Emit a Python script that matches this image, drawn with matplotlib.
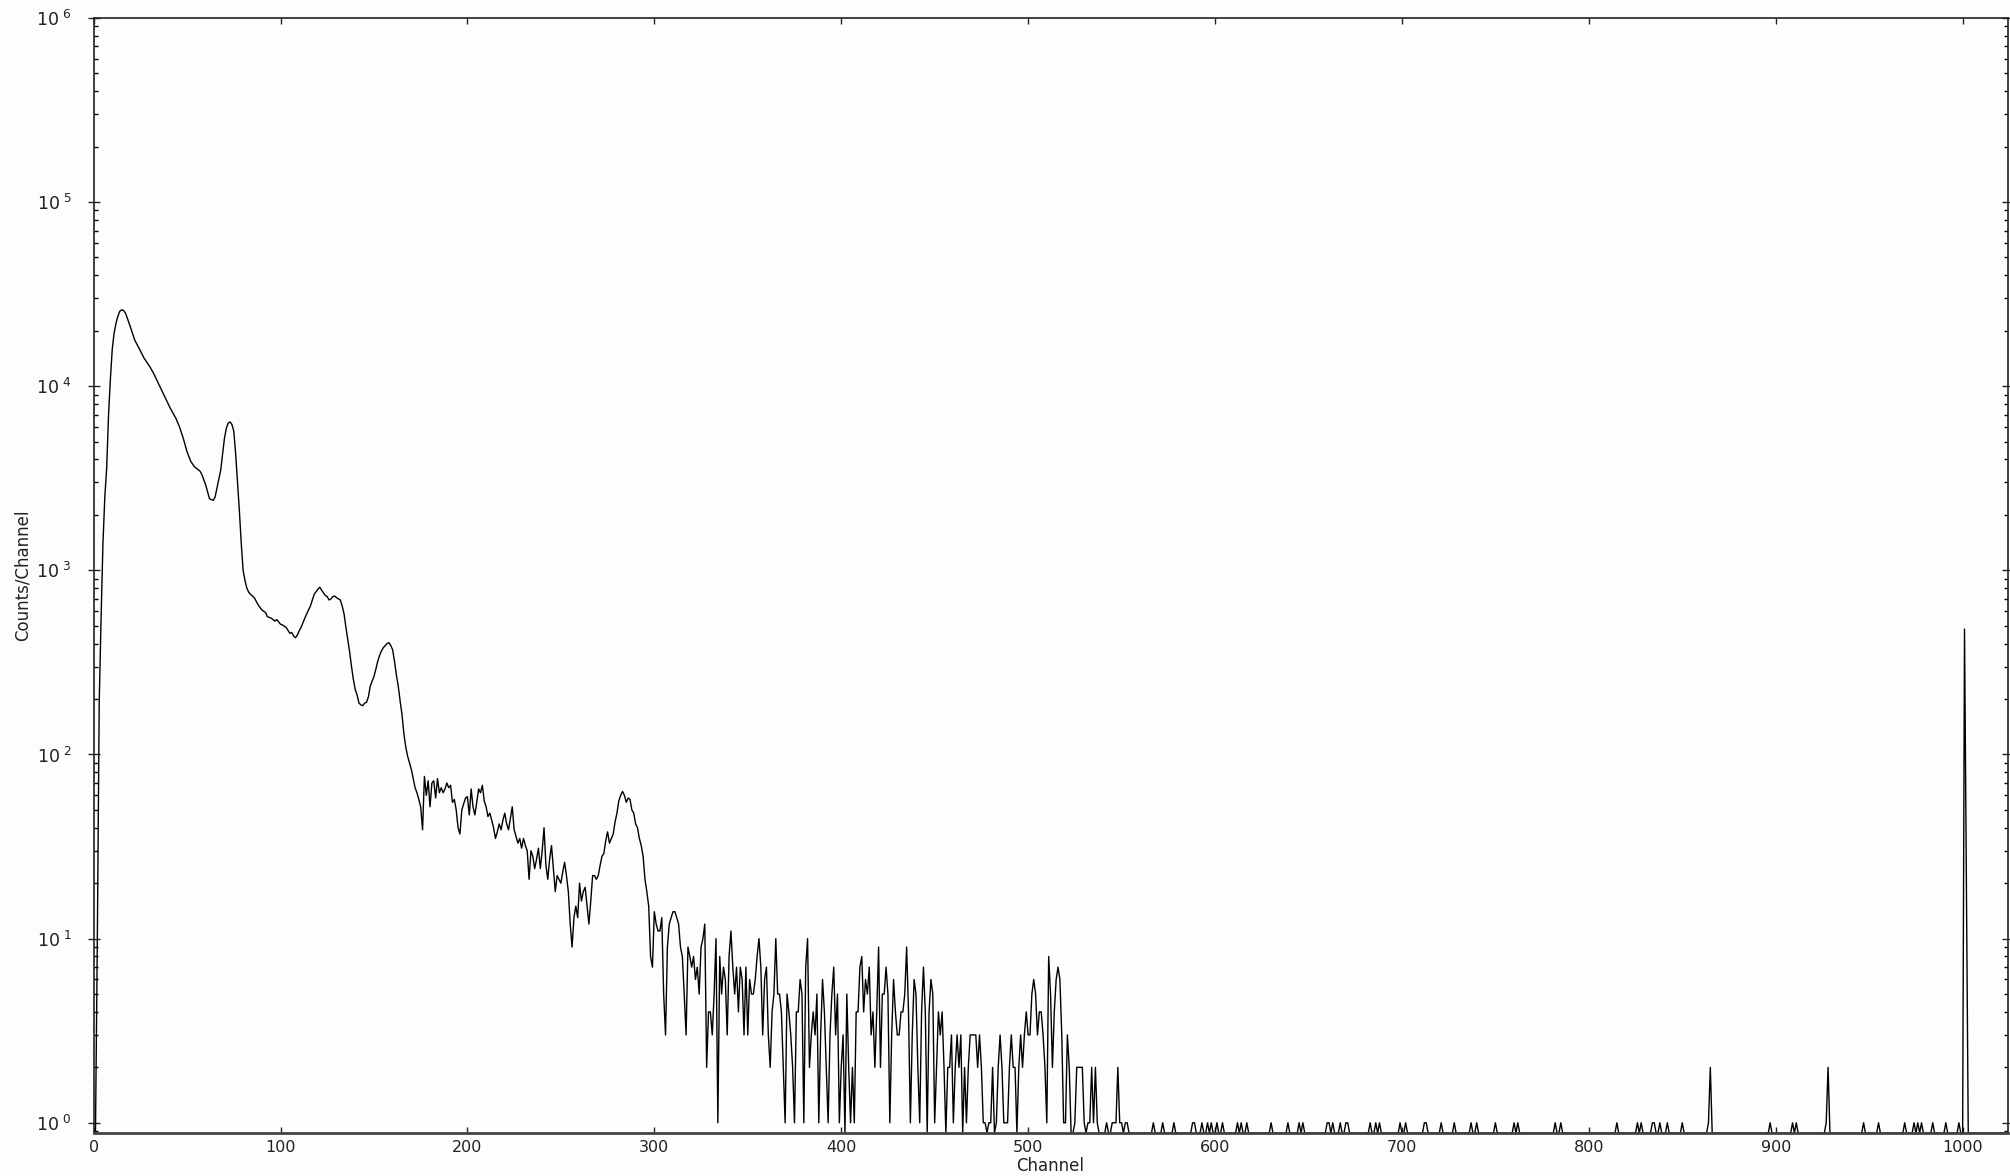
import numpy as np
import matplotlib
matplotlib.use("Agg")
import matplotlib.pyplot as plt
from matplotlib.ticker import FixedLocator, LogLocator, NullFormatter, FixedFormatter

# smooth part of the spectrum (channel, counts)
ch_low = [0, 1, 2, 3, 4, 5, 6, 7, 8, 9, 10, 11, 12, 13, 14, 15, 16, 17, 18, 20,
          22, 24, 27, 30, 32, 35, 38, 41, 44, 46, 48, 50, 52, 54, 57, 58, 60, 62, 64, 65,
          66, 68, 70, 71, 72, 73, 74, 75, 76, 77, 78, 79, 80, 81, 82, 83, 84, 86, 88, 90,
          92, 93, 95, 97, 98, 100, 101, 103, 105, 106, 107, 108, 109, 110, 111, 113, 115, 116, 118, 120,
          121, 122, 124, 125, 126, 127, 128, 129, 130, 132, 133, 134, 135, 136, 137, 138, 139, 140, 141, 142,
          143, 144, 145, 146, 147, 148, 149, 150, 151, 152, 153, 154, 155, 156, 157, 158, 159, 160, 161, 162,
          163, 164, 165, 166, 167, 168, 169, 170, 171, 172, 173, 174, 175, 176, 177, 178, 179, 180, 181, 182,
          183, 184, 185, 186, 187, 188, 189, 190, 191, 192, 193, 194, 195, 196, 197, 198, 199, 200, 201, 202,
          203, 204, 205, 206, 207, 208, 209, 210, 211, 212, 213, 214, 215, 216, 217, 218, 219, 220, 221, 222,
          223, 224, 225, 226, 227, 228, 229, 230, 231, 232, 233, 234, 235, 236, 237, 238, 239, 240, 241, 242,
          243, 244, 245, 246, 247, 248, 249, 250, 251, 252, 253, 254, 255, 256, 257, 258, 259, 260, 261, 262,
          263, 264, 265, 266, 267, 268, 269, 270, 271, 272, 273, 274, 275, 276, 277, 278, 279, 280, 281, 282,
          283, 284, 285, 286, 287, 288, 289, 290, 291, 292, 293, 294, 295, 296, 297]
cnt_low = [0, 0, 10, 190, 550, 1400, 2500, 3600, 7000, 11000, 16000, 19500, 22000, 24000, 25500, 26000, 25800, 25000, 23500, 20500,
           17800, 16300, 14200, 12800, 11800, 10200, 8800, 7600, 6700, 6000, 5200, 4400, 3900, 3650, 3450, 3300, 2900, 2450, 2400, 2500,
           2800, 3500, 5200, 5900, 6300, 6400, 6200, 5700, 4300, 3000, 2100, 1400, 1000, 880, 800, 760, 740, 710, 650, 610,
           590, 560, 550, 530, 540, 510, 505, 490, 455, 460, 440, 430, 445, 470, 490, 550, 610, 640, 740, 790,
           810, 780, 730, 720, 690, 700, 720, 725, 710, 690, 640, 580, 490, 420, 360, 300, 255, 225, 210, 190,
           186, 184, 190, 192, 205, 235, 250, 265, 290, 320, 345, 365, 380, 390, 400, 405, 390, 370, 320, 270,
           235, 195, 165, 130, 110, 98, 90, 83, 74, 66, 62, 57, 52, 39, 76, 60, 72, 52, 70, 72,
           58, 74, 62, 66, 62, 65, 70, 66, 68, 55, 57, 50, 40, 37, 50, 54, 58, 59, 47, 65,
           52, 47, 55, 65, 62, 68, 56, 52, 46, 48, 44, 40, 35, 38, 42, 39, 44, 48, 42, 39,
           45, 52, 39, 36, 33, 35, 31, 35, 32, 30, 21, 30, 28, 24, 27, 31, 24, 30, 40, 25,
           21, 27, 32, 24, 18, 22, 21, 20, 23, 26, 22, 18, 12, 9, 13, 15, 13, 20, 16, 18,
           19, 15, 12, 16, 22, 22, 21, 22, 25, 28, 29, 34, 38, 33, 35, 37, 43, 48, 56, 60,
           63, 60, 55, 58, 57, 50, 48, 42, 40, 35, 32, 28, 21, 18, 15]

# noisy part, one value per channel from channel 298 to 554
mid_start = 298
cnt_mid = [8, 7,
           14, 12, 11, 11, 13, 5, 3, 9, 12, 13,
           14, 14, 13, 12, 9, 8, 5, 3, 9, 8,
           7, 8, 6, 7, 5, 9, 10, 12, 2, 4,
           4, 3, 5, 10, 1, 8, 5, 7, 6, 3,
           8, 11, 7, 5, 7, 4, 7, 6, 3, 7,
           3, 6, 5, 5, 6, 8, 10, 7, 3, 6,
           7, 3, 2, 4, 5, 10, 5, 5, 4, 2,
           1, 5, 4, 3, 2, 1, 4, 4, 6, 5,
           1, 7, 10, 2, 3, 4, 3, 5, 1, 3,
           6, 4, 2, 1, 3, 5, 7, 3, 5, 1,
           2, 3, 0, 5, 2, 1, 2, 1, 4, 4,
           7, 8, 4, 6, 5, 7, 3, 4, 2, 4,
           9, 2, 5, 5, 7, 5, 1, 3, 6, 4,
           3, 3, 4, 4, 5, 9, 4, 1, 3, 6,
           5, 2, 1, 4, 7, 4, 0, 4, 6, 5,
           1, 2, 4, 3, 4, 2, 0, 2, 2, 3,
           1, 2, 3, 2, 3, 0, 2, 1, 2, 3,
           3, 3, 3, 2, 3, 2, 1, 1, 0, 1,
           1, 2, 0, 1, 2, 3, 2, 1, 1, 1,
           2, 3, 2, 2, 0, 2, 3, 2, 3, 4,
           3, 3, 5, 6, 5, 3, 4, 4, 3, 2,
           1, 8, 5, 2, 4, 6, 7, 6, 3, 1,
           1, 3, 2, 0, 0, 1, 2, 2, 2, 2,
           1, 0, 1, 1, 2, 1, 2, 1, 0, 0,
           0, 0, 1, 0, 0, 1, 1, 1, 2, 1,
           1, 0, 1, 1, 0]

# sparse tail: channels with counts, every other channel up to 1023 is empty
tail_ch = [567, 572, 578, 588, 589, 593, 596, 598, 601, 604, 612, 614, 617, 630, 639, 645, 647,
           660, 661, 663, 667, 670, 671, 683, 686, 688, 699, 702, 712, 713, 721, 728, 737, 740,
           750, 760, 762, 782, 785, 815, 826, 828, 834, 835, 838, 842, 850, 864, 865, 897, 909,
           911, 927, 928, 947, 955, 969, 974, 976, 978, 984, 991, 998, 1001, 1002]
tail_cnt = [1, 1, 1, 1, 1, 1, 1, 1, 1, 1, 1, 1, 1, 1, 1, 1, 1,
            1, 1, 1, 1, 1, 1, 1, 1, 1, 1, 1, 1, 1, 1, 1, 1, 1,
            1, 1, 1, 1, 1, 1, 1, 1, 1, 1, 1, 1, 1, 1, 2, 1, 1,
            1, 1, 2, 1, 1, 1, 1, 1, 1, 1, 1, 1, 480, 20]

n_chan = 1024
y_floor = 0.88   # empty channels are drawn on the bottom of the frame

# assemble channel/count arrays for plotting
tail_start = mid_start + len(cnt_mid)
tail = np.zeros(n_chan - tail_start)
for c, v in zip(tail_ch, tail_cnt):
    tail[c - tail_start] = v

x = np.concatenate([ch_low,
                    np.arange(mid_start, tail_start),
                    np.arange(tail_start, n_chan)])
y = np.concatenate([cnt_low, cnt_mid, tail]).astype(float)
y_draw = np.where(y > 0, y, y_floor)

W, H, DPI = 2010, 1176, 100
fig = plt.figure(figsize=(W / DPI, H / DPI), dpi=DPI, facecolor="#fdfdfd")
ax = fig.add_axes([93.6 / W, 1 - 1133 / H, (2007.5 - 93.6) / W, (1133 - 17.9) / H])
ax.set_facecolor("#fdfdfd")

ax.plot(x, y_draw, color="black", lw=1.0)

ax.set_yscale("log")
ax.set_ylim(y_floor, 1e6)
ax.set_xlim(0, 1024)

ax.xaxis.set_major_locator(FixedLocator(range(0, 1001, 100)))
ax.tick_params(axis="x", which="major", direction="in", length=4, width=1,
               top=True, bottom=True, labelsize=11.5, pad=5, colors="#222222")

dec = [10.0 ** k for k in range(7)]
ax.yaxis.set_major_locator(FixedLocator(dec))
ax.yaxis.set_major_formatter(FixedFormatter([r"$\mathregular{10^{\ %d}}$" % k for k in range(7)]))
ax.yaxis.set_minor_locator(LogLocator(base=10, subs=range(2, 10), numticks=20))
ax.yaxis.set_minor_formatter(NullFormatter())
ax.tick_params(axis="y", which="major", direction="inout", length=8, width=1,
               left=True, right=True, labelsize=12.5, pad=12, colors="#222222")
ax.tick_params(axis="y", which="minor", direction="in", length=3, width=1,
               left=True, right=True)

for s in ax.spines.values():
    s.set_linewidth(1.2)
    s.set_color("#222222")
ax.spines["bottom"].set_linewidth(2.0)
ax.spines["bottom"].set_color("#444444")

fig.text(0.5 * (93.6 + 2007.5) / W, 1 - 1166 / H, "Channel", ha="center", va="center",
         fontsize=12, color="#222222")
fig.text(23 / W, 1 - 575 / H, "Counts/Channel", ha="center", va="center",
         rotation=90, fontsize=12, color="#222222")

fig.savefig("out.png", dpi=DPI, facecolor=fig.get_facecolor())
